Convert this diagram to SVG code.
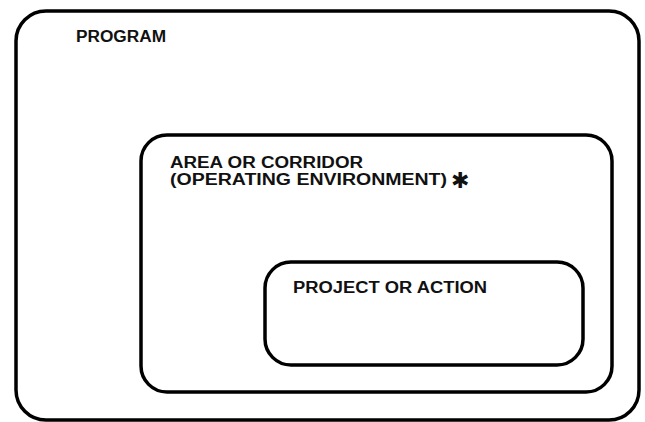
<svg xmlns="http://www.w3.org/2000/svg" width="645" height="422" viewBox="0 0 645 422">
<style>
.box{fill:none;stroke:#000;stroke-width:3.5}
.lbl{font-family:"Liberation Sans",Arial,sans-serif;font-weight:bold;font-size:16px;fill:#111}
</style>
<rect width="645" height="422" fill="#fff"/>
<g id="program">
<rect class="box" x="16" y="11" width="623" height="409" rx="30" ry="30" stroke-width="4"/>
<text class="lbl" x="76" y="42" textLength="90" lengthAdjust="spacingAndGlyphs">PROGRAM</text>
</g>
<g id="area">
<rect class="box" x="141" y="135" width="471" height="257" rx="26" ry="26"/>
<text class="lbl" x="170" y="168" textLength="193" lengthAdjust="spacingAndGlyphs">AREA OR CORRIDOR</text>
<text class="lbl" x="170" y="185"><tspan textLength="277" lengthAdjust="spacingAndGlyphs">(OPERATING ENVIRONMENT)</tspan><tspan x="451" y="188" font-family="DejaVu Sans" font-size="22">✱</tspan></text>
</g>
<g id="project">
<rect class="box" x="265" y="262" width="318" height="103" rx="26" ry="26" stroke-width="3"/>
<text class="lbl" x="293" y="293" textLength="194" lengthAdjust="spacingAndGlyphs">PROJECT OR ACTION</text>
</g>
<g id="connectors"/>
</svg>
